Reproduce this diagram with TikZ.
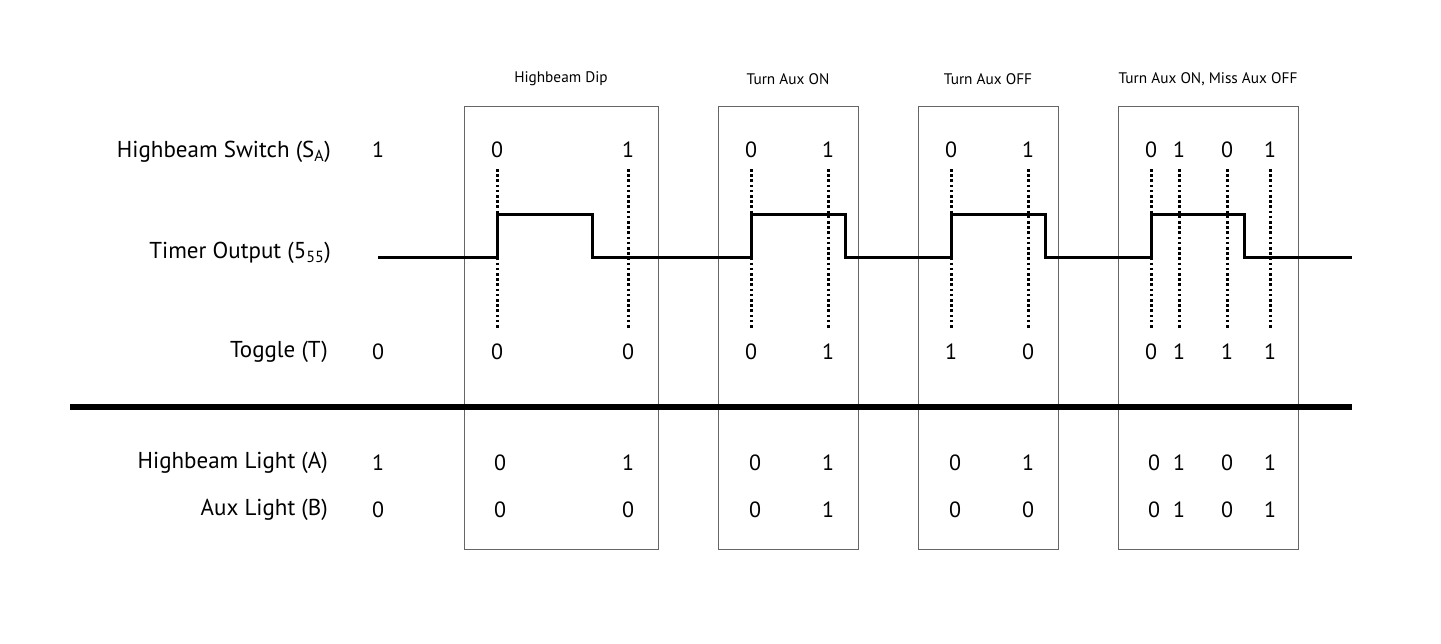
\documentclass[tikz,border=0pt]{standalone}
\usepackage{fontspec}
\setmainfont{PT Sans}
\begin{document}
\begin{tikzpicture}[x=1pt,y=-1pt,
  lbl/.style={anchor=east,inner sep=0pt,font=\fontsize{23}{26}\selectfont},
  val/.style={inner sep=0pt,font=\fontsize{22}{26}\selectfont},
  ttl/.style={inner sep=0pt,font=\fontsize{15.3}{18}\selectfont},
  frame/.style={draw=black!60,line width=1.3pt},
  guide/.style={line width=3pt,dash pattern=on 2.6pt off 2.6pt},
  wave/.style={line width=3pt,line join=miter},
  bar/.style={line width=6.5pt}]
\useasboundingbox (0,0) rectangle (1441,643);
% frames
\node[frame,minimum width=194pt,minimum height=443pt,anchor=north west,inner sep=0pt] (b1) at (464,106) {};
\node[frame,minimum width=140pt,minimum height=443pt,anchor=north west,inner sep=0pt] (b2) at (718,106) {};
\node[frame,minimum width=140pt,minimum height=443pt,anchor=north west,inner sep=0pt] (b3) at (918,106) {};
\node[frame,minimum width=180pt,minimum height=443pt,anchor=north west,inner sep=0pt] (b4) at (1118,106) {};
% titles
\node[ttl] (t1) at (561,79) {Highbeam Dip};
\node[ttl] (t2) at (788,79) {Turn Aux ON};
\node[ttl] (t3) at (988,79) {Turn Aux OFF};
\node[ttl] (t4) at (1208,79) {Turn Aux ON, Miss Aux OFF};
% row labels
\node[lbl] (l1) at (331,152) {Highbeam Switch (S\textsubscript{A})};
\node[lbl] (l2) at (331,253) {Timer Output (5\textsubscript{55})};
\node[lbl] (l3) at (328,352) {Toggle (T)};
\node[lbl] (l4) at (328,463) {Highbeam Light (A)};
\node[lbl] (l5) at (328,510) {Aux Light (B)};
% initial values
\node[val] (i1) at (378,150) {1};
\node[val] (i3) at (378,352) {0};
\node[val] (i4) at (378,463) {1};
\node[val] (i5) at (378,510) {0};
% guides
\foreach \gx in {497,628,751,828,951,1028,1151,1179,1227,1270}
  \draw[guide] (\gx,169) -- (\gx,328);
% waveform
\coordinate (ws) at (378,257);
\coordinate (we) at (1352,257);
\draw[wave] (ws) -- (497,257) -- (497,214) -- (592,214) -- (592,257)
  -- (751,257) -- (751,214) -- (845,214) -- (845,257)
  -- (951,257) -- (951,214) -- (1045,214) -- (1045,257)
  -- (1151,257) -- (1151,214) -- (1244,214) -- (1244,257) -- (we);
% thick separator
\coordinate (sl) at (70,407);
\coordinate (sr) at (1352,407);
\draw[bar] (sl) -- (sr);
% switch values
\foreach \gx/\v [count=\i] in {497/0,628/1,751/0,828/1,951/0,1028/1,1151/0,1179/1,1227/0,1270/1}
  \node[val] (s\i) at (\gx,150) {\v};
% toggle values
\foreach \gx/\v [count=\i] in {497/0,628/0,751/0,828/1,951/1,1028/0,1151/0,1179/1,1227/1,1270/1}
  \node[val] (g\i) at (\gx,352) {\v};
% highbeam light
\foreach \gx/\v [count=\i] in {500/0,628/1,755/0,828/1,955/0,1028/1,1154/0,1179/1,1227/0,1270/1}
  \node[val] (h\i) at (\gx,463) {\v};
% aux light
\foreach \gx/\v [count=\i] in {500/0,628/0,755/0,828/1,955/0,1028/0,1154/0,1179/1,1227/0,1270/1}
  \node[val] (a\i) at (\gx,510) {\v};
\end{tikzpicture}
\end{document}
